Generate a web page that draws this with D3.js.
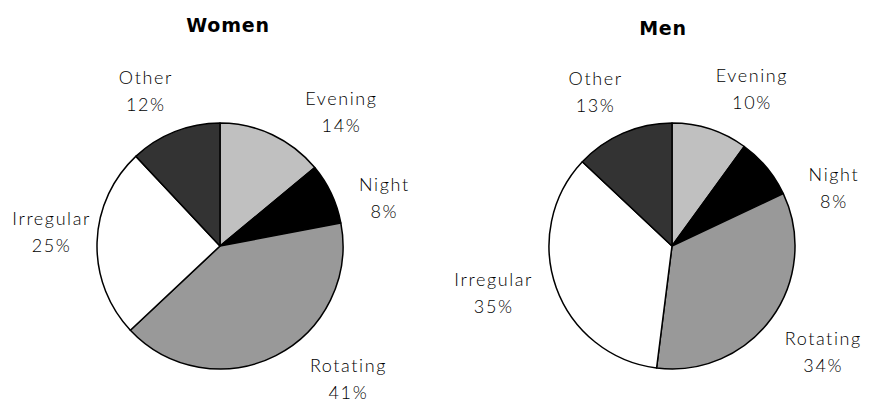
<html>
<head>
<script src="https://cdn.jsdelivr.net/npm/d3@7"></script>
<style>
  body { margin: 0; background: #fff; }
  text { font-family: Lato, "DejaVu Sans", sans-serif; }
</style>
</head>
<body>
<svg id="vis"></svg>
<script>
// shift categories, clockwise from 12 o'clock
const categories = ['Evening', 'Night', 'Rotating', 'Irregular', 'Other'];
const womenValues = [14, 8, 41, 25, 12];
const menValues = [10, 8, 34, 35, 13];
const panelTitles = ['Women', 'Men'];

const width = 874;
const height = 402;
const radius = 123;

// fills per category (greys as in the original)
const fills = {Evening: '#c0c0c0', Night: '#000000', Rotating: '#999999', Irregular: '#ffffff', Other: '#333333'};

// best-fit label tweaks: [angle in degrees, radial px]
const labelNudge = [
  {Evening: [17, 0], Night: [9, 0], Rotating: [-17, 2], Irregular: [3, -13], Other: [-4, 0]},
  {Evening: [9, 0], Night: [20, 0], Rotating: [-1, 0], Irregular: [5, 0], Other: [-3, 0]}
];

const panels = [
  {title: panelTitles[0], values: womenValues, cx: 220, cy: 246, titleX: 228, titleY: 32},
  {title: panelTitles[1], values: menValues, cx: 672, cy: 246, titleX: 663, titleY: 35}
];

let svg = d3.select('#vis')
  .attr('width', width)
  .attr('height', height);

let pie = d3.pie().sort(null).value(d => d.value);
let arc = d3.arc().innerRadius(0).outerRadius(radius);

panels.forEach(function(p, i) {
  let data = categories.map((c, j) => ({name: c, value: p.values[j]}));
  let g = svg.append('g').attr('transform', `translate(${p.cx},${p.cy})`);

  g.selectAll('path')
    .data(pie(data))
    .enter().append('path')
    .attr('d', arc)
    .attr('fill', d => fills[d.data.name])
    .attr('stroke', '#000')
    .attr('stroke-width', 1.5)
    .attr('stroke-linejoin', 'round');

  svg.append('text')
    .attr('x', p.titleX)
    .attr('y', p.titleY)
    .attr('text-anchor', 'middle')
    .style('font-family', '"DejaVu Sans", sans-serif')
    .style('font-weight', 'bold')
    .style('font-size', '19px')
    .style('letter-spacing', '0.8px')
    .text(p.title);

  let labels = g.selectAll('g.label')
    .data(pie(data))
    .enter().append('g')
    .attr('class', 'label');

  labels.append('text')
    .attr('class', 'name')
    .attr('text-anchor', 'middle')
    .attr('y', -7)
    .style('font-size', '18px')
    .style('font-weight', 300)
    .style('letter-spacing', '1.6px')
    .attr('fill', '#000')
    .text(d => d.data.name);

  labels.append('text')
    .attr('text-anchor', 'middle')
    .attr('y', 20)
    .style('font-size', '18px')
    .style('font-weight', 300)
    .style('letter-spacing', '1.6px')
    .attr('fill', '#000')
    .text(d => d.data.value + '%');

  // push each label box just outside the rim, along its (nudged) mid angle
  labels.attr('transform', function(d) {
    let w = d3.select(this).select('text.name').node().getComputedTextLength();
    let nudge = labelNudge[i][d.data.name];
    let a = (d.startAngle + d.endAngle) / 2 + nudge[0] * Math.PI / 180;
    let s = Math.sin(a), c = -Math.cos(a);
    let r = radius + 18 + nudge[1] + Math.abs(s) * w / 2 + Math.abs(c) * 21;
    return `translate(${s * r},${c * r})`;
  });
});
</script>
</body>
</html>
